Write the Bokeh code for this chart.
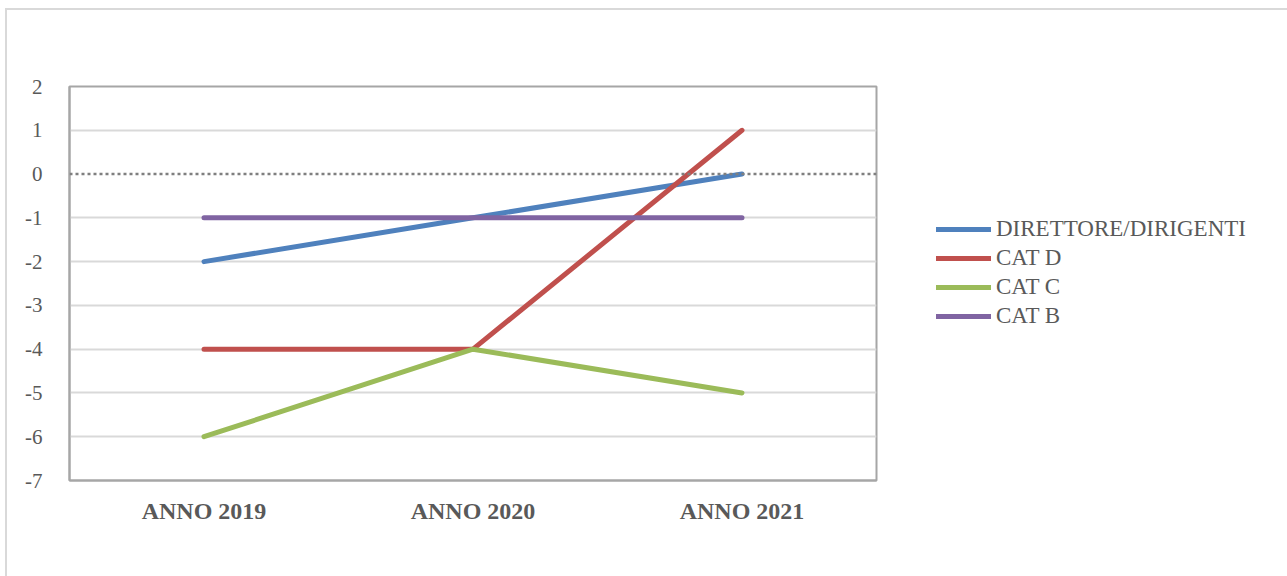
from bokeh.plotting import figure
from bokeh.layouts import row
from bokeh.models import Span, Legend, LegendItem, FactorRange, Range1d, FixedTicker
from bokeh.embed import file_html
from bokeh.resources import INLINE

years = ["ANNO 2019", "ANNO 2020", "ANNO 2021"]
series_names = ["DIRETTORE/DIRIGENTI", "CAT D", "CAT C", "CAT B"]
direttore = [-2, -1, 0]
cat_d = [-4, -4, 1]
cat_c = [-6, -4, -5]
cat_b = [-1, -1, -1]
colors = ["#4F81BD", "#C0504D", "#9BBB59", "#8064A2"]
y_ticks = [2, 1, 0, -1, -2, -3, -4, -5, -6, -7]

H = 566
p = figure(width=871, height=H, output_backend="svg", toolbar_location=None,
           x_range=FactorRange(*years, range_padding=0), y_range=Range1d(-7, 2),
           min_border_left=62, min_border_right=2, min_border_top=76, min_border_bottom=96)

p.outline_line_color = "#a6a6a6"
p.outline_line_width = 2
p.background_fill_color = "white"
p.border_fill_color = "white"

p.xgrid.grid_line_color = None
p.ygrid.grid_line_color = "#d9d9d9"
p.ygrid.grid_line_width = 2
p.ygrid.ticker = FixedTicker(ticks=[t for t in y_ticks if t != 0])

p.yaxis.ticker = FixedTicker(ticks=y_ticks)
p.yaxis.major_label_overrides = {t: str(t) for t in y_ticks}
for ax in (p.xaxis, p.yaxis):
    ax.axis_line_color = "#a6a6a6"
    ax.axis_line_width = 2
    ax.major_tick_line_color = None
    ax.minor_tick_line_color = None
    ax.major_label_text_color = "#595959"
    ax.major_label_text_font = "Liberation Serif"
p.yaxis.major_label_text_font_size = "21px"
p.yaxis.major_label_standoff = 21
p.xaxis.major_label_text_font_size = "24px"
p.xaxis.major_label_text_font_style = "bold"
p.xaxis.major_label_standoff = 11

p.add_layout(Span(location=0, dimension="width", line_color="#7f7f7f",
                  line_width=2.5, line_dash="3 3"))

# legend figure (right side); its copies of the series lie outside its visible y range
p2 = figure(width=409, height=H, output_backend="svg", toolbar_location=None,
            x_axis_type=None, y_axis_type=None, min_border=0,
            x_range=FactorRange(*years, range_padding=0), y_range=Range1d(100, 101))
p2.outline_line_color = None
p2.background_fill_color = "white"
p2.border_fill_color = "white"

items = []
for name, vals, col in zip(series_names, [direttore, cat_d, cat_c, cat_b], colors):
    p.line(years, vals, line_color=col, line_width=5, line_cap="round", line_join="round")
    r2 = p2.line(years, vals, line_color=col, line_width=5, line_cap="round")
    items.append(LegendItem(label=name, renderers=[r2]))

legend = Legend(items=items, location=(58, 151), border_line_color=None,
                background_fill_alpha=0, padding=0, margin=0, spacing=3,
                glyph_width=55, glyph_height=20, label_height=20, label_standoff=5,
                label_text_font="Liberation Serif", label_text_font_size="23px",
                label_text_color="#595959")
p2.add_layout(legend)

layout = row(p, p2, spacing=0,
             styles={"margin-left": "5px", "margin-top": "8px",
                     "border-left": "2px solid #d9d9d9", "border-top": "2px solid #d9d9d9"})

open("out.html", "w").write(file_html(layout, INLINE))
